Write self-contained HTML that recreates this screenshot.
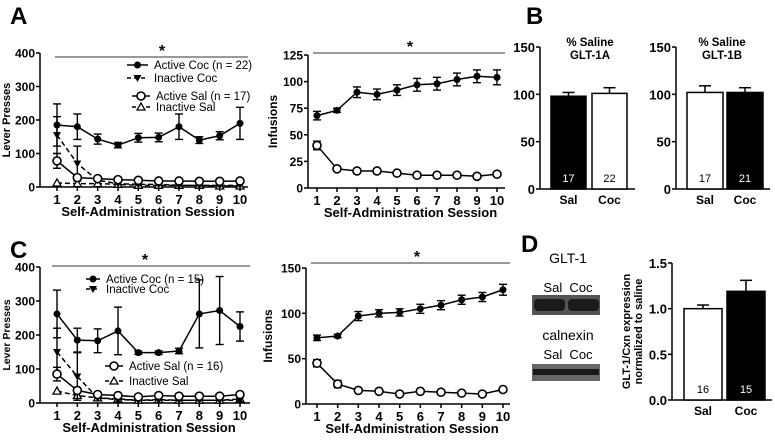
<!DOCTYPE html>
<html><head><meta charset="utf-8"><style>
html,body{margin:0;padding:0;background:#fff;}
svg{display:block;font-family:"Liberation Sans",Arial,sans-serif;}
.b{font-weight:bold;}
</style></head><body>
<svg id="fig" width="775" height="440" viewBox="0 0 775 440" xmlns="http://www.w3.org/2000/svg">
<g id="static">
<text x="10" y="24" font-size="24" class="b">A</text>
<text x="526" y="24" font-size="24" class="b">B</text>
<text x="10" y="258" font-size="24" class="b">C</text>
<text x="521" y="252" font-size="24" class="b">D</text>
<text x="568" y="263" font-size="14" text-anchor="middle">GLT-1</text>
<text x="568" y="292" font-size="13" text-anchor="middle">Sal&#160;&#160;Coc</text>
<rect x="532" y="295" width="68" height="20" fill="#555"/>
<rect x="534" y="299" width="31" height="12" fill="#1a1a1a" rx="4"/>
<rect x="568" y="299" width="31" height="12" fill="#1a1a1a" rx="4"/>
<text x="568" y="340" font-size="14" text-anchor="middle">calnexin</text>
<text x="568" y="359" font-size="13" text-anchor="middle">Sal&#160;&#160;Coc</text>
<rect x="532" y="364" width="68" height="17" fill="#666"/>
<rect x="533" y="369" width="66" height="6" fill="#1a1a1a"/>
</g>
</svg>
<script>
// ---- Panel A lever presses ----
const sessions=[1,2,3,4,5,6,7,8,9,10];
const aActCoc=[185,180,143,125,147,148,180,140,153,190];
const aActCocErr=[63,38,15,8,13,13,38,10,12,48];
const aInCoc=[155,70,20,10,8,8,5,5,5,5];
const aInCocErr=[55,52,0,0,0,0,0,0,0,0];
const aActSal=[78,28,25,22,20,18,18,17,17,18];
const aActSalErr=[22,0,0,0,0,0,0,0,0,0];
const aInSal=[12,10,10,8,5,5,5,5,3,3];
const aLeverTicks=[0,100,200,300,400];
// ---- Panel A infusions ----
const aInfCoc=[68,73,90,88,92,97,98,102,105,104];
const aInfCocErr=[4,2,5,5,5,6,6,6,6,7];
const aInfSal=[40,18,16,16,14,12,12,12,11,13];
const aInfSalErr=[4,0,0,0,0,0,0,0,0,0];
const aInfTicks=[0,25,50,75,100,125];
// ---- Panel C lever presses ----
const cActCoc=[262,185,183,212,148,148,153,262,272,225];
const cActCocErr=[70,35,35,70,5,5,8,100,100,43];
const cInCoc=[150,78,15,10,8,8,8,8,8,8];
const cInCocErr=[70,70,0,0,0,0,0,0,0,0];
const cActSal=[85,37,25,22,18,22,20,20,20,25];
const cActSalErr=[20,0,0,0,0,0,0,0,0,0];
const cInSal=[35,22,15,12,8,10,8,8,8,12];
const cLeverTicks=[0,100,200,300,400];
// ---- Panel C infusions ----
const cInfCoc=[73,75,97,100,101,105,109,115,118,126];
const cInfCocErr=[3,2,5,4,4,5,5,5,5,6];
const cInfSal=[45,22,15,14,11,14,13,12,11,16];
const cInfSalErr=[4,4,0,0,0,0,0,0,0,0];
const cInfTicks=[0,50,100,150];
// ---- Bars ----
const barCats=["Sal","Coc"];
const b1Vals=[98,101]; const b1Err=[4,6]; const b1N=["17","22"];
const b2Vals=[102,102]; const b2Err=[7,5]; const b2N=["17","21"];
const bTicks=[0,50,100,150];
const dVals=[1.0,1.19]; const dErr=[0.04,0.12]; const dN=["16","15"];
const dTicks=["0.0","0.5","1.0","1.5"];

const NS="http://www.w3.org/2000/svg";
const svg=document.getElementById('fig');
function el(tag,attrs,parent,txt){const e=document.createElementNS(NS,tag);for(const k in attrs)e.setAttribute(k,attrs[k]);if(txt!==undefined)e.textContent=txt;(parent||svg).appendChild(e);return e;}

function marker(g,type,x,y){
  let m;
  if(type==='fc'){m=el('circle',{cx:x,cy:y,r:3.5,fill:'#000'},g);}
  else if(type==='oc'){m=el('circle',{cx:x,cy:y,r:4,fill:'#fff',stroke:'#000','stroke-width':1.6},g);}
  else if(type==='td'){m=el('path',{d:`M${x-4},${y-3} L${x+4},${y-3} L${x},${y+4} Z`,fill:'#000'},g);}
  else if(type==='tu'){m=el('path',{d:`M${x-4},${y+3} L${x+4},${y+3} L${x},${y-4} Z`,fill:'#fff',stroke:'#000','stroke-width':1.3},g);}
  else {m=el('rect',{x:x-3.5,y:y-3.5,width:7,height:7,fill:'#000'},g);}
  
  
}

function lineChart(cfg){
  const g=el('g',{});
  
  
  const xs=v=>cfg.x1+(v-1)*(cfg.x10-cfg.x1)/9;
  const ys=v=>cfg.y0-v*(cfg.y0-cfg.yTop)/cfg.yMax;
  const ya=el('line',{x1:cfg.ax,y1:cfg.yTop,x2:cfg.ax,y2:cfg.y0,stroke:'#000','stroke-width':1.5},g);
  
  const xa=el('line',{x1:cfg.ax,y1:cfg.y0,x2:cfg.axEnd,y2:cfg.y0,stroke:'#000','stroke-width':1.5},g);
  
  cfg.ticks.forEach(t=>{
    el('line',{x1:cfg.ax-4,y1:ys(t),x2:cfg.ax,y2:ys(t),stroke:'#000','stroke-width':1.5},g);
    const tl=el('text',{x:cfg.ax-5,y:ys(t)+4.5,'font-size':12,'text-anchor':'end',class:'b'},g,t);
    
  });
  sessions.forEach(s=>{
    el('line',{x1:xs(s),y1:cfg.y0,x2:xs(s),y2:cfg.y0+4,stroke:'#000','stroke-width':1.5},g);
    const tl=el('text',{x:xs(s),y:cfg.y0+17,'font-size':13,'text-anchor':'middle',class:'b'},g,s);
    
  });
  const xt=el('text',{x:(cfg.ax+cfg.axEnd)/2+4,y:cfg.y0+29,'font-size':13,'text-anchor':'middle',class:'b'},g,'Self-Administration Session');
  
  const yt=el('text',{x:0,y:0,'font-size':cfg.ylFs||12,'text-anchor':'middle',class:'b',transform:`translate(${cfg.ylx},${(cfg.yTop+cfg.y0)/2}) rotate(-90)`},g,cfg.ylabel);
  
  const sl=el('line',{x1:cfg.sx1,y1:cfg.sy,x2:cfg.sx2,y2:cfg.sy,stroke:'#333','stroke-width':1},g);
  
  const st=el('text',{x:cfg.starX,y:cfg.sy-1,'font-size':16,'text-anchor':'middle',class:'b'},g,'*');
  
  cfg.series.forEach(sr=>{
    const sg=el('g',{},g);
    
    
    const pts=sr.vals.map((v,i)=>xs(i+1)+','+ys(v)).join(' ');
    el('polyline',{points:pts,fill:'none',stroke:'#000','stroke-width':1.5,'stroke-dasharray':sr.dash||'none'},sg);
    if(sr.err) sr.vals.forEach((v,i)=>{
      const e=sr.err[i]; if(!e) return;
      const x=xs(i+1);
      el('line',{x1:x,y1:ys(v-e),x2:x,y2:ys(v+e),stroke:'#000','stroke-width':1.4},sg);
      el('line',{x1:x-4,y1:ys(v+e),x2:x+4,y2:ys(v+e),stroke:'#000','stroke-width':1.4},sg);
      el('line',{x1:x-4,y1:ys(v-e),x2:x+4,y2:ys(v-e),stroke:'#000','stroke-width':1.4},sg);
    });
    sr.vals.forEach((v,i)=>marker(sg,sr.m,xs(i+1),ys(v)));
  });
  (cfg.legend||[]).forEach(L=>{
    const lg=el('g',{},g);
    
    
    const w=L.w||15;
    el('line',{x1:L.x,y1:L.y,x2:L.x+w,y2:L.y,stroke:'#000','stroke-width':1.5,'stroke-dasharray':L.dash||'none'},lg);
    marker(lg,L.m,L.x+w/2,L.y);
    el('text',{x:L.x+w+6,y:L.y+4,'font-size':11.5},lg,L.t);
  });
}

lineChart({name:'chart-a-lever-presses',ax:40,axEnd:248,x1:57,x10:240,y0:187,yTop:53,yMax:400,ticks:aLeverTicks,ylabel:'Lever Presses',ylx:10,ylFs:11,
  sx1:55,sx2:248,sy:57,starX:162,
  series:[
    {name:'series-inactive-sal',vals:aInSal,m:'tu',dash:'5,3'},
    {name:'series-inactive-coc',vals:aInCoc,err:aInCocErr,m:'td',dash:'5,3'},
    {name:'series-active-sal',vals:aActSal,err:aActSalErr,m:'oc'},
    {name:'series-active-coc',vals:aActCoc,err:aActCocErr,m:'fc'}],
  legend:[{x:127,y:65,w:21,m:'fc',t:'Active Coc (n = 22)'},{x:127,y:78,w:21,m:'td',dash:'4,3',t:'Inactive Coc'},
          {x:132,y:96,w:18,m:'oc',t:' Active Sal (n = 17)'},{x:132,y:107,w:18,m:'tu',dash:'4,3',t:' Inactive Sal'}]});

lineChart({name:'chart-a-infusions',ax:308,axEnd:505,x1:317,x10:497,y0:188,yTop:55,yMax:125,ticks:aInfTicks,ylabel:'Infusions',ylx:277,
  sx1:313,sx2:505,sy:53,starX:410,
  series:[{name:'series-saline-infusions',vals:aInfSal,err:aInfSalErr,m:'oc'},
          {name:'series-cocaine-infusions',vals:aInfCoc,err:aInfCocErr,m:'fc'}]});

lineChart({name:'chart-c-lever-presses',ax:40,axEnd:250,x1:57,x10:240,y0:403,yTop:267,yMax:400,ticks:cLeverTicks,ylabel:'Lever Presses',ylx:10,ylFs:10.5,
  sx1:52,sx2:250,sy:266,starX:145,
  series:[
    {name:'series-inactive-sal',vals:cInSal,m:'tu',dash:'5,3'},
    {name:'series-inactive-coc',vals:cInCoc,err:cInCocErr,m:'td',dash:'5,3'},
    {name:'series-active-sal',vals:cActSal,err:cActSalErr,m:'oc'},
    {name:'series-active-coc',vals:cActCoc,err:cActCocErr,m:'fc'}],
  legend:[{x:86,y:279,w:14,m:'fc',t:'Active Coc (n = 15)'},{x:86,y:289,w:14,m:'td',dash:'4,3',t:'Inactive Coc'},
          {x:105,y:366,w:18,m:'oc',t:' Active Sal (n = 16)'},{x:105,y:381,w:18,m:'tu',dash:'4,3',t:' Inactive Sal'}]});

lineChart({name:'chart-c-infusions',ax:306,axEnd:510,x1:317,x10:503,y0:404,yTop:268,yMax:150,ticks:cInfTicks,ylabel:'Infusions',ylx:272,
  sx1:311,sx2:510,sy:263,starX:417,
  series:[{name:'series-saline-infusions',vals:cInfSal,err:cInfSalErr,m:'oc'},
          {name:'series-cocaine-infusions',vals:cInfCoc,err:cInfCocErr,m:'fc'}]});

function barChart(cfg){
  const g=el('g',{});
  
  
  const ys=v=>cfg.y0-v*(cfg.y0-cfg.yTop)/cfg.yMax;
  const ya=el('line',{x1:cfg.ax,y1:cfg.yTop,x2:cfg.ax,y2:cfg.y0,stroke:'#000','stroke-width':1.5},g);
  
  const xa=el('line',{x1:cfg.ax,y1:cfg.y0,x2:cfg.axEnd,y2:cfg.y0,stroke:'#000','stroke-width':1.5},g);
  
  cfg.ticks.forEach(t=>{
    const v=parseFloat(t);
    el('line',{x1:cfg.ax-4,y1:ys(v),x2:cfg.ax,y2:ys(v),stroke:'#000','stroke-width':1.5},g);
    const tl=el('text',{x:cfg.ax-5,y:ys(v)+5,'font-size':13,'text-anchor':'end',class:'b'},g,t);
    
  });
  cfg.vals.forEach((v,i)=>{
    const x=cfg.bx[i], w=cfg.bw, fill=cfg.fills[i];
    const e=cfg.err[i], cx=x+w/2;
    const eg=el('line',{x1:cx,y1:ys(v),x2:cx,y2:ys(v+e),stroke:'#000','stroke-width':1.5},g);
    
    el('line',{x1:cx-6,y1:ys(v+e),x2:cx+6,y2:ys(v+e),stroke:'#000','stroke-width':1.5},g);
    const r=el('rect',{x:x,y:ys(v),width:w,height:cfg.y0-ys(v),fill:fill,stroke:'#000','stroke-width':1.5},g);
    
    
    const n=el('text',{x:cx,y:cfg.y0-7,'font-size':11,'text-anchor':'middle',fill:fill==='#000'?'#fff':'#000'},g,cfg.n[i]);
    
    const c=el('text',{x:cx,y:cfg.y0+15,'font-size':12,'text-anchor':'middle',class:'b'},g,barCats[i]);
    
  });
  (cfg.title||[]).forEach((t,i)=>{
    const tt=el('text',{x:cfg.tx,y:cfg.ty+i*13,'font-size':11.5,'text-anchor':'middle',class:'b'},g,t);
    
  });
  (cfg.ylabel||[]).forEach((t,i)=>{
    const yt=el('text',{x:0,y:0,'font-size':11,'text-anchor':'middle',class:'b',transform:`translate(${cfg.ylx+i*12},${(cfg.yTop+cfg.y0)/2}) rotate(-90)`},g,t);
    
  });
}
barChart({name:'chart-b-glt1a',ax:540,axEnd:635,y0:189,yTop:47,yMax:150,ticks:bTicks.map(String),vals:b1Vals,err:b1Err,n:b1N,
  bx:[551,592],bw:35,fills:['#000','#fff'],title:['% Saline','GLT-1A'],tx:590,ty:46});
barChart({name:'chart-b-glt1b',ax:676,axEnd:770,y0:189,yTop:47,yMax:150,ticks:bTicks.map(String),vals:b2Vals,err:b2Err,n:b2N,
  bx:[687,727],bw:36,fills:['#fff','#000'],title:['% Saline','GLT-1B'],tx:722,ty:46});
barChart({name:'chart-d-glt1-cxn',ax:672,axEnd:772,y0:400,yTop:263,yMax:1.5,ticks:dTicks,vals:dVals,err:dErr,n:dN,
  bx:[684,727],bw:38,fills:['#fff','#000'],ylabel:['GLT-1/Cxn expression','normalized to saline'],ylx:630});
</script>
</body></html>
